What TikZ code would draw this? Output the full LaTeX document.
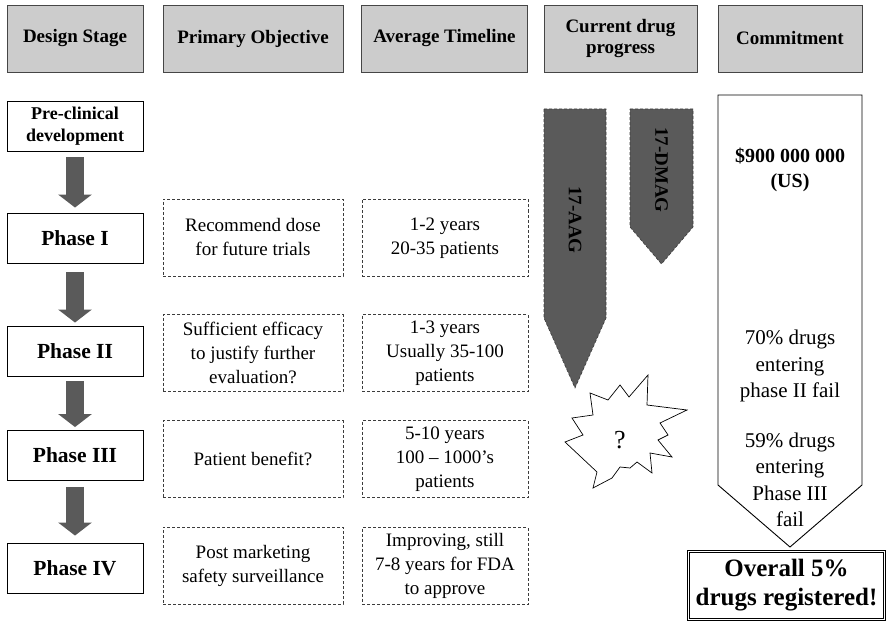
\documentclass[tikz,border=0pt]{standalone}
\usepackage{fontspec}
\setmainfont{Liberation Serif}
\usetikzlibrary{arrows.meta}
\definecolor{hdrfill}{RGB}{204,204,204}
\definecolor{hdrline}{RGB}{70,70,70}
\definecolor{drugfill}{RGB}{90,90,90}
\definecolor{boxline}{RGB}{60,60,60}
\newcommand{\hdrfont}{\fontsize{19}{21}\selectfont\bfseries}
\newcommand{\infofont}{\fontsize{19}{24}\selectfont}
\newcommand{\stagefont}{\fontsize{21.5}{24}\selectfont\bfseries}
\newcommand{\statfont}{\fontsize{21}{26.5}\selectfont}
\tikzset{
  hdr/.style={draw=hdrline, fill=hdrfill, line width=0.8pt, minimum width=#1, minimum height=67pt, inner sep=0pt, align=center, font=\hdrfont},
  stagebox/.style={draw, line width=0.9pt, minimum width=136pt, minimum height=50pt, inner sep=0pt, align=center, font=\stagefont},
  infobox/.style={draw=boxline, line width=0.7pt, dash pattern=on 3pt off 2pt, minimum width=#1, minimum height=77pt, inner sep=0pt, align=center, font=\infofont},
  flowarrow/.style={draw=drugfill, line width=18pt, -{Triangle[width=33pt,length=13pt]}},
  drugarrow/.style={fill=drugfill, draw=boxline, line width=0.6pt, dash pattern=on 3pt off 2pt},
}
\begin{document}
\begin{tikzpicture}[x=1pt,y=-1pt]
		\useasboundingbox (0,0) rectangle (887,623);
		% column headers
		\node[hdr=136pt] (hstage) at (75,38.5) {Design Stage};
		\node[hdr=180pt] (hobj) at (253,38.5) {Primary Objective};
		\node[hdr=166pt] (htime) at (444.5,38.5) {Average Timeline};
		\node[hdr=153pt] (hdrug) at (620.5,38.5) {Current drug\\progress};
		\node[hdr=144pt] (hcommit) at (790,38.5) {Commitment};
		% design stages
		\node[stagebox, font=\fontsize{18}{22}\selectfont\bfseries] (pre) at (75,126) {Pre-clinical\\development};
		\node[stagebox] (p1) at (75,238) {Phase I};
		\node[stagebox] (p2) at (75,351) {Phase II};
		\node[stagebox] (p3) at (75,455.5) {Phase III};
		\node[stagebox] (p4) at (75,568) {Phase IV};
		\draw[flowarrow] ([yshift=-6pt]pre.south) -- ([yshift=5pt]p1.north);
		\draw[flowarrow] ([yshift=-9pt]p1.south) -- ([yshift=3pt]p2.north);
		\draw[flowarrow] ([yshift=-5pt]p2.south) -- ([yshift=3pt]p3.north);
		\draw[flowarrow] ([yshift=-6pt]p3.south) -- ([yshift=7pt]p4.north);
		% objectives
		\node[infobox=180pt] (obj1) at (253,237.5) {Recommend dose\\for future trials};
		\node[infobox=180pt] (obj2) at (253,353) {Sufficient efficacy\\to justify further\\evaluation?};
		\node[infobox=180pt] (obj3) at (253,459) {Patient benefit?};
		\node[infobox=180pt] (obj4) at (253,565.5) {Post marketing\\safety surveillance};
		% timelines
		\node[infobox=166pt] (time1) at (445,238) {1-2 years\\20-35 patients};
		\node[infobox=166pt] (time2) at (445,353) {1-3 years\\Usually 35-100\\patients};
		\node[infobox=166pt] (time3) at (445,459) {5-10 years\\100 -- 1000's\\patients};
		\node[infobox=166pt] (time4) at (445,566) {Improving, still\\7-8 years for FDA\\to approve};
		% drug progress
		\draw[drugarrow] (544,109) -- (606,109) -- (606,318) -- (575,388) -- (544,318) -- cycle;
		\draw[drugarrow] (630,109) -- (693,109) -- (693,227) -- (661.5,264) -- (630,227) -- cycle;
		\node[rotate=-90, font=\fontsize{19}{21}\selectfont\bfseries] (aag) at (575,220) {17-AAG};
		\node[rotate=-90, font=\fontsize{19}{21}\selectfont\bfseries] (dmag) at (661.5,170) {17-DMAG};
		\draw[fill=white, line width=0.7pt] (620,385) -- (629,397) -- (648,375) -- (647,405) -- (687,410) -- (660,423) -- (668,435) -- (658,440) -- (672,457) -- (650,453) -- (652,473) -- (637,462) -- (630,468) -- (620,467) -- (612,478) -- (593,488) -- (597,472) -- (565,442) -- (583,435) -- (572,418) -- (593,415) -- (590,393) -- (608,400) -- cycle;
		\node[font=\fontsize{26}{28}\selectfont] (qmark) at (620,440) {?};
		% commitment
		\draw[line width=0.9pt] (718,95) -- (862,95) -- (862,485) -- (790,547) -- (718,485) -- cycle;
		\node[font=\fontsize{20}{25}\selectfont\bfseries, align=center] (cost) at (790,170) {\$900 000 000\\(US)};
		\node[font=\statfont, align=center] (fail2) at (790,366) {70\% drugs\\entering\\phase II fail};
		\node[font=\statfont, align=center] (fail3) at (790,480) {59\% drugs\\entering\\Phase III\\fail};
		\node[draw, double, double distance=1.6pt, line width=0.7pt, minimum width=196pt, minimum height=68pt, inner sep=0pt, align=center, font=\fontsize{25}{29}\selectfont\bfseries] (overall) at (786.5,585.5) {Overall 5\%\\drugs registered!};
\end{tikzpicture}
\end{document}
